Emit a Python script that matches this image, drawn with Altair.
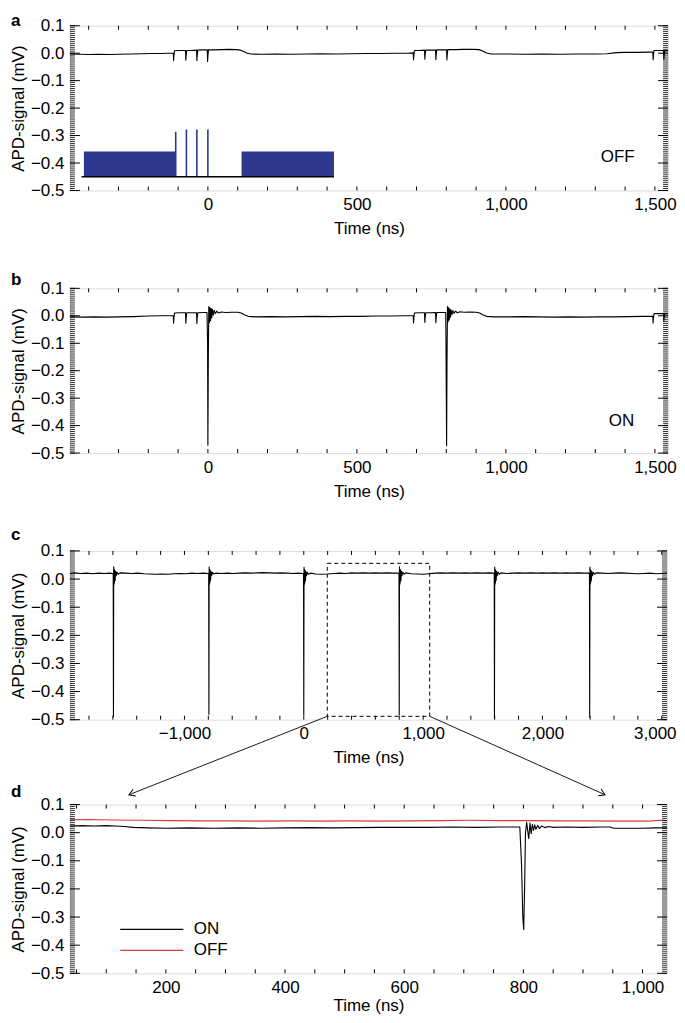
import altair as alt
import pandas as pd

FONT = "Liberation Sans"
FS = 17
BLUE = "#2e388c"
RED = "#d93b3b"

# ---------------- panel a : OFF trace ----------------
a_time = [-463, -430, -400, -370, -330, -300, -260, -220, -190, -160, -130, -116,
          -115, -114, -112, -95, -75,
          -74, -73, -71, -55, -38,
          -37, -36, -34, -15, -2,
          -1, 0, 2, 20, 45, 70, 95, 110, 120, 132, 145, 180, 230, 280, 330, 380, 430, 480, 530, 580, 630, 670, 689,
          690, 691, 693, 710, 727,
          728, 729, 731, 748, 764,
          765, 766, 768, 785, 801,
          802, 803, 805, 830, 860, 890, 910, 922, 935, 950, 1000, 1060, 1120, 1180, 1240, 1300, 1340, 1370, 1400, 1440, 1480, 1493,
          1494, 1495, 1497, 1515, 1529,
          1530, 1531, 1533, 1544]
a_sig = [-0.003, -0.004, -0.005, -0.004, -0.005, -0.004, -0.003, -0.002, -0.001, -0.001, 0.000, 0.000,
         -0.027, -0.010, 0.009, 0.010, 0.010,
         -0.026, -0.010, 0.010, 0.010, 0.011,
         -0.027, -0.010, 0.011, 0.012, 0.012,
         -0.030, -0.012, 0.012, 0.012, 0.013, 0.014, 0.013, 0.011, 0.006, 0.000, -0.003, -0.004, -0.003, -0.004, -0.003, -0.002, -0.003, -0.002, -0.001, -0.001, 0.000, 0.000, 0.001,
         -0.025, -0.010, 0.010, 0.010, 0.011,
         -0.022, -0.008, 0.011, 0.011, 0.011,
         -0.024, -0.008, 0.012, 0.012, 0.012,
         -0.025, -0.008, 0.013, 0.013, 0.014, 0.014, 0.013, 0.008, 0.001, -0.003, -0.003, -0.004, -0.003, -0.004, -0.003, -0.003, -0.002, 0.002, 0.003, 0.003, 0.004, 0.004,
         -0.024, -0.008, 0.010, 0.010, 0.010,
         -0.022, -0.008, 0.010, 0.010]

# inset schematic of the pulse train (panel a)
inset_block_start = [-416, 113]
inset_block_end = [-108, 423]
inset_block_top = [-0.358, -0.358]
inset_block_bottom = [-0.45, -0.45]
inset_pulse_time = [-108, -72, -37, 0]
inset_pulse_top = [-0.286, -0.278, -0.278, -0.278]
inset_base_time = [-424, 423]
inset_base_level = -0.45

# ---------------- panel b : ON trace ----------------
b_time = [-463, -420, -380, -340, -300, -250, -200, -160, -130, -116,
          -115, -114, -112, -95, -75,
          -74, -73, -71, -55, -38,
          -37, -36, -34, -15, -3,
          -1, 0, 1.5, 3, 5, 7, 9, 11, 13, 15, 18, 21, 25, 30, 36, 45, 60, 80, 100, 112, 122, 135, 160, 210,
          260, 310, 360, 410, 460, 510, 560, 610, 660, 689,
          690, 691, 693, 710, 727,
          728, 729, 731, 748, 764,
          765, 766, 768, 785, 798,
          799, 801, 802.5, 804, 806, 808, 810, 812, 814, 816, 819, 822, 826, 831, 837, 846, 860, 880, 900, 912,
          922, 935, 960, 1010, 1060, 1110, 1160, 1210, 1260, 1310, 1360, 1410, 1460, 1493,
          1494, 1495, 1497, 1515, 1529,
          1530, 1531, 1533, 1544]
b_sig = [-0.004, -0.005, -0.004, -0.005, -0.004, -0.003, -0.001, 0.000, 0.000, 0.000,
         -0.027, -0.010, 0.010, 0.011, 0.011,
         -0.027, -0.010, 0.011, 0.011, 0.011,
         -0.028, -0.010, 0.011, 0.012, 0.012,
         -0.100, -0.471, -0.150, 0.034, -0.025, 0.030, -0.018, 0.026, -0.008, 0.024, 0.002, 0.020, 0.008, 0.017, 0.010, 0.014, 0.012, 0.013, 0.013, 0.010, 0.004, -0.002, -0.004, -0.003,
         -0.004, -0.003, -0.002, -0.003, -0.002, -0.002, -0.001, -0.001, 0.000, 0.000,
         -0.026, -0.010, 0.010, 0.011, 0.011,
         -0.024, -0.009, 0.011, 0.011, 0.012,
         -0.025, -0.009, 0.012, 0.012, 0.012,
         -0.100, -0.473, -0.150, 0.034, -0.022, 0.030, -0.015, 0.025, -0.005, 0.022, 0.004, 0.019, 0.009, 0.017, 0.011, 0.015, 0.013, 0.014, 0.013, 0.010,
         0.004, -0.002, -0.004, -0.004, -0.003, -0.004, -0.005, -0.004, -0.005, -0.004, -0.004, -0.003, -0.002, -0.002,
         -0.026, -0.010, 0.008, 0.008, 0.008,
         -0.020, -0.008, 0.008, 0.008]

# ---------------- panel c : long ON trace ----------------
c_time = [-1960, -1920, -1870, -1820, -1770, -1720, -1670, -1625, -1603, -1597,
          -1595, -1593, -1591, -1589, -1587, -1584, -1581, -1577, -1572, -1565, -1555, -1540,
          -1490, -1440, -1390, -1340, -1290, -1240, -1190, -1140, -1090, -1040, -990, -940, -890, -845, -803, -797,
          -795, -793, -791, -789, -787, -784, -781, -777, -772, -765, -755, -740,
          -690, -640, -590, -540, -490, -440, -390, -340, -290, -240, -190, -140, -90, -50, -8, -2,
          0, 2, 4, 6, 8, 11, 14, 18, 23, 30, 40, 55,
          100, 150, 200, 250, 300, 350, 400, 450, 500, 550, 600, 650, 700, 750, 792, 798,
          800, 802, 804, 806, 808, 811, 814, 818, 823, 830, 840, 855,
          900, 950, 1000, 1050, 1100, 1150, 1200, 1250, 1300, 1350, 1400, 1450, 1500, 1550, 1590, 1596,
          1598, 1600, 1602, 1604, 1606, 1609, 1612, 1616, 1621, 1628, 1638, 1653,
          1700, 1750, 1800, 1850, 1900, 1950, 2000, 2050, 2100, 2150, 2200, 2250, 2300, 2350, 2388, 2394,
          2396, 2398, 2400, 2402, 2404, 2407, 2410, 2414, 2419, 2426, 2436, 2451,
          2500, 2550, 2600, 2650, 2700, 2750, 2800, 2850, 2900, 2950, 3000, 3044]
c_sig = [0.020, 0.022, 0.020, 0.021, 0.019, 0.021, 0.020, 0.021, 0.020, 0.016,
         -0.489, 0.044, -0.020, 0.036, -0.014, 0.031, -0.005, 0.028, 0.012, 0.025, 0.017, 0.022,
         0.021, 0.020, 0.021, 0.019, 0.018, 0.017, 0.018, 0.017, 0.019, 0.020, 0.019, 0.021, 0.020, 0.021, 0.020, 0.016,
         -0.481, 0.043, -0.019, 0.035, -0.013, 0.030, -0.004, 0.027, 0.013, 0.024, 0.018, 0.021,
         0.020, 0.021, 0.020, 0.021, 0.022, 0.021, 0.022, 0.023, 0.022, 0.021, 0.022, 0.021, 0.020, 0.021, 0.020, 0.016,
         -0.483, 0.042, -0.021, 0.035, -0.015, 0.030, -0.006, 0.027, 0.012, 0.024, 0.017, 0.021,
         0.018, 0.017, 0.018, 0.020, 0.021, 0.020, 0.022, 0.021, 0.022, 0.021, 0.022, 0.021, 0.022, 0.021, 0.021, 0.017,
         -0.483, 0.044, -0.020, 0.036, -0.014, 0.031, -0.005, 0.028, 0.012, 0.025, 0.017, 0.022,
         0.019, 0.018, 0.017, 0.019, 0.021, 0.022, 0.021, 0.022, 0.021, 0.022, 0.021, 0.022, 0.021, 0.022, 0.021, 0.017,
         -0.494, 0.043, -0.020, 0.035, -0.014, 0.030, -0.005, 0.027, 0.012, 0.025, 0.017, 0.022,
         0.020, 0.021, 0.022, 0.021, 0.022, 0.021, 0.022, 0.021, 0.022, 0.021, 0.022, 0.021, 0.022, 0.021, 0.021, 0.017,
         -0.490, 0.043, -0.020, 0.035, -0.014, 0.030, -0.005, 0.027, 0.012, 0.024, 0.017, 0.022,
         0.021, 0.020, 0.021, 0.022, 0.021, 0.020, 0.019, 0.020, 0.021, 0.019, 0.020, 0.021]

# zoom box and arrows (panel c coordinates)
box_time = [197, 1055]
box_sig = [0.056, -0.488]
arrow_from_time = [197, 1055]
arrow_from_sig = [-0.488, -0.488]
arrow_to_time = [-1466, 2525]
arrow_to_sig = [-0.767, -0.767]
arrow_angle = [158.6, 23.9]

# ---------------- panel d : zoom, ON vs OFF ----------------
d_on_time = [39, 60, 80, 100, 115, 130, 145, 170, 200, 240, 280, 320, 360, 400, 440, 480, 520, 560, 600, 640,
             680, 720, 760, 785, 794, 797, 799, 800.5, 802, 803.5, 805.5, 807, 809, 811, 813, 815, 817, 819, 821, 824,
             827, 831, 836, 842, 850, 870, 900, 930, 945, 952, 970, 1000, 1020, 1041]
d_on_sig = [0.024, 0.025, 0.024, 0.025, 0.024, 0.022, 0.019, 0.017, 0.016, 0.017, 0.016, 0.017, 0.016, 0.017, 0.018, 0.017, 0.018, 0.019, 0.019, 0.019,
            0.020, 0.019, 0.020, 0.020, 0.020, -0.120, -0.300, -0.344, -0.200, 0.000, 0.037, 0.010, -0.021, 0.034, -0.004, 0.030, 0.008, 0.028, 0.012, 0.026,
            0.015, 0.024, 0.018, 0.022, 0.019, 0.020, 0.019, 0.020, 0.020, 0.016, 0.016, 0.016, 0.017, 0.017]
d_off_time = [39, 70, 110, 160, 210, 260, 310, 360, 410, 460, 510, 560, 610, 660, 710, 760, 810, 860, 910, 960, 1010, 1030, 1041]
d_off_sig = [0.046, 0.047, 0.045, 0.044, 0.043, 0.042, 0.042, 0.041, 0.042, 0.041, 0.042, 0.041, 0.042, 0.043, 0.044, 0.043, 0.043, 0.042, 0.042, 0.041, 0.041, 0.044, 0.043]

# axes
Y_DOMAIN = [-0.5, 0.1]
Y_MAJOR = [-0.5, -0.4, -0.3, -0.2, -0.1, 0.0, 0.1]
Y_MINOR = [round(-0.5 + i * 0.1 / 14, 5) for i in range(85)]
AB_DOMAIN = [-463, 1544]
AB_LABELS = [0, 500, 1000, 1500]
AB_TICKS = list(range(-400, 1501, 100))
C_DOMAIN = [-1960, 3044]
C_LABELS = [-1000, 0, 1000, 2000, 3000]
C_TICKS = list(range(-1800, 3001, 200))
D_DOMAIN = [39, 1041]
D_LABELS = [200, 400, 600, 800, 1000]
D_TICKS = list(range(50, 1001, 50))


def y_axis():
    return alt.Axis(values=Y_MAJOR, format=".1f", title="APD-signal (mV)", ticks=False, tickSize=0,
                    domain=False, grid=False, labelFlush=False, labelOverlap=False,
                    labelFont=FONT, labelFontSize=FS, labelColor="black", labelPadding=6,
                    titleFont=FONT, titleFontSize=FS, titleFontWeight="normal", titleColor="black",
                    titlePadding=3)


def x_axis(vals, edge_label=None, title_pad=8):
    extra = {}
    if edge_label is not None:
        # nudge the right-most label so that it stays inside the page
        extra["labelOffset"] = {"condition": {"test": f"datum.value == {edge_label}", "value": -7},
                                "value": 0}
    return alt.Axis(values=vals, format=",.0f", title="Time (ns)", ticks=False, tickSize=0,
                    domain=False, grid=False, labelFlush=False, labelOverlap=False,
                    labelFont=FONT, labelFontSize=FS, labelColor="black", labelPadding=6,
                    titleFont=FONT, titleFontSize=FS, titleFontWeight="normal", titleColor="black",
                    titlePadding=title_pad, **extra)


def panel(content, xdom, xlabels, xticks, W, H, letter, letter_rise, edge_label=None, title_pad=8):
    xs = alt.Scale(domain=xdom, nice=False, zero=False)
    ys = alt.Scale(domain=Y_DOMAIN, nice=False, zero=False)
    xa = x_axis(xlabels, edge_label, title_pad)
    ya = y_axis()

    def X(f):
        return alt.X(f, type="quantitative", scale=xs, axis=xa)

    def Y(f):
        return alt.Y(f, type="quantitative", scale=ys, axis=ya)

    layers = content(X, Y)
    dmin = pd.DataFrame({"v": Y_MINOR})
    dmaj = pd.DataFrame({"v": Y_MAJOR})
    dxt = pd.DataFrame({"t": xticks})
    for df, ln, sw in ((dmin, 5, 0.8), (dmaj, 10, 1.0)):
        layers.append(alt.Chart(df).mark_rule(color="black", strokeWidth=sw).encode(
            y=Y("v"), x=alt.value(0), x2=alt.value(ln)))
        layers.append(alt.Chart(df).mark_rule(color="black", strokeWidth=sw).encode(
            y=Y("v"), x=alt.value(W), x2=alt.value(W - ln)))
    layers.append(alt.Chart(dxt).mark_rule(color="black", strokeWidth=1).encode(
        x=X("t"), y=alt.value(H), y2=alt.value(H - 4)))
    layers.append(alt.Chart(dxt).mark_rule(color="black", strokeWidth=1).encode(
        x=X("t"), y=alt.value(0), y2=alt.value(4)))
    # panel letter
    layers.append(alt.Chart(pd.DataFrame({"s": [letter]})).mark_text(
        font=FONT, fontSize=FS, fontWeight="bold", color="black", align="left",
        baseline="alphabetic", clip=False).encode(
        x=alt.value(-59), y=alt.value(-letter_rise), text="s:N"))
    return alt.layer(*layers).properties(width=W, height=H)


def line_layer(t, v, X, Y):
    return alt.Chart(pd.DataFrame({"t": t, "v": v})).mark_line(
        color="black", strokeWidth=1.1, strokeJoin="round").encode(x=X("t"), y=Y("v"))


def note_layer(txt, t, v, X, Y):
    return alt.Chart(pd.DataFrame({"t": [t], "v": [v], "s": [txt]})).mark_text(
        font=FONT, fontSize=FS, color="black", align="center", baseline="middle").encode(
        x=X("t"), y=Y("v"), text="s:N")


def content_a(X, Y):
    blocks = pd.DataFrame({"t0": inset_block_start, "t1": inset_block_end,
                           "v0": inset_block_top, "v1": inset_block_bottom})
    pulses = pd.DataFrame({"t": inset_pulse_time, "v0": inset_pulse_top,
                           "v1": [inset_base_level] * len(inset_pulse_time)})
    base = pd.DataFrame({"t0": [inset_base_time[0]], "t1": [inset_base_time[1]], "v": [inset_base_level]})
    return [
        alt.Chart(blocks).mark_rect(color=BLUE).encode(
            x=X("t0"), x2=alt.X2("t1"), y=Y("v0"), y2=alt.Y2("v1")),
        alt.Chart(pulses).mark_rule(color=BLUE, strokeWidth=1.6).encode(
            x=X("t"), y=Y("v0"), y2=alt.Y2("v1")),
        alt.Chart(base).mark_rule(color="black", strokeWidth=1.3).encode(
            x=X("t0"), x2=alt.X2("t1"), y=Y("v")),
        line_layer(a_time, a_sig, X, Y),
        note_layer("OFF", 1375, -0.378, X, Y),
    ]


def content_b(X, Y):
    return [line_layer(b_time, b_sig, X, Y), note_layer("ON", 1388, -0.382, X, Y)]


def content_c(X, Y):
    box = pd.DataFrame({"t0": [box_time[0]], "t1": [box_time[1]], "v0": [box_sig[0]], "v1": [box_sig[1]]})
    arrows = pd.DataFrame({"t0": arrow_from_time, "v0": arrow_from_sig,
                           "t1": arrow_to_time, "v1": arrow_to_sig, "ang": arrow_angle})
    return [
        line_layer(c_time, c_sig, X, Y),
        alt.Chart(box).mark_rect(fill="white", fillOpacity=0, stroke="black", strokeWidth=1,
                                 strokeDash=[4, 3]).encode(
            x=X("t0"), x2=alt.X2("t1"), y=Y("v0"), y2=alt.Y2("v1")),
        alt.Chart(arrows).mark_rule(color="black", strokeWidth=0.9, clip=False).encode(
            x=X("t0"), y=Y("v0"), x2=alt.X2("t1"), y2=alt.Y2("v1")),
        alt.Chart(arrows).mark_point(shape="M-1,-0.6L0,0L-1,0.6", size=144, filled=False,
                                     color="black", strokeWidth=1, opacity=1, clip=False).encode(
            x=X("t1"), y=Y("v1"), angle=alt.Angle("ang:Q", scale=None)),
    ]


def content_d(X, Y):
    df = pd.concat([
        pd.DataFrame({"t": d_off_time, "v": d_off_sig, "s": "OFF"}),
        pd.DataFrame({"t": d_on_time, "v": d_on_sig, "s": "ON"}),
    ], ignore_index=True)
    # legends of a concatenated chart are placed relative to the first panel's plot origin
    legend = alt.Legend(orient="none", legendX=73, legendY=896, title=None,
                        symbolType="M-4,0L4,0", symbolSize=250, symbolStrokeWidth=1.3,
                        labelFont=FONT, labelFontSize=FS, labelColor="black", labelOffset=33,
                        rowPadding=4, padding=0)
    return [
        alt.Chart(df).mark_line(strokeWidth=1.1, strokeJoin="round").encode(
            x=X("t"), y=Y("v"),
            color=alt.Color("s:N", scale=alt.Scale(domain=["ON", "OFF"], range=["black", RED]),
                            legend=legend)),
    ]


pa = panel(content_a, AB_DOMAIN, AB_LABELS, AB_TICKS, 599, 165, "a", 0)
pb = panel(content_b, AB_DOMAIN, AB_LABELS, AB_TICKS, 599, 165, "b", 3)
pc = panel(content_c, C_DOMAIN, C_LABELS, C_TICKS, 598, 169, "c", 11, edge_label=3000)
pd_ = panel(content_d, D_DOMAIN, D_LABELS, D_TICKS, 598, 169, "d", 8, title_pad=2)

upper = alt.vconcat(pa, pb, pc, spacing=98, bounds="flush")
chart = alt.vconcat(upper, pd_, spacing=-17, bounds="full").properties(
    padding={"left": 0, "top": 2, "right": 0, "bottom": 0}
).configure_view(stroke="black", strokeWidth=1.2).configure(font=FONT)

chart.save("out.html", embed_options={"renderer": "svg", "actions": False})
